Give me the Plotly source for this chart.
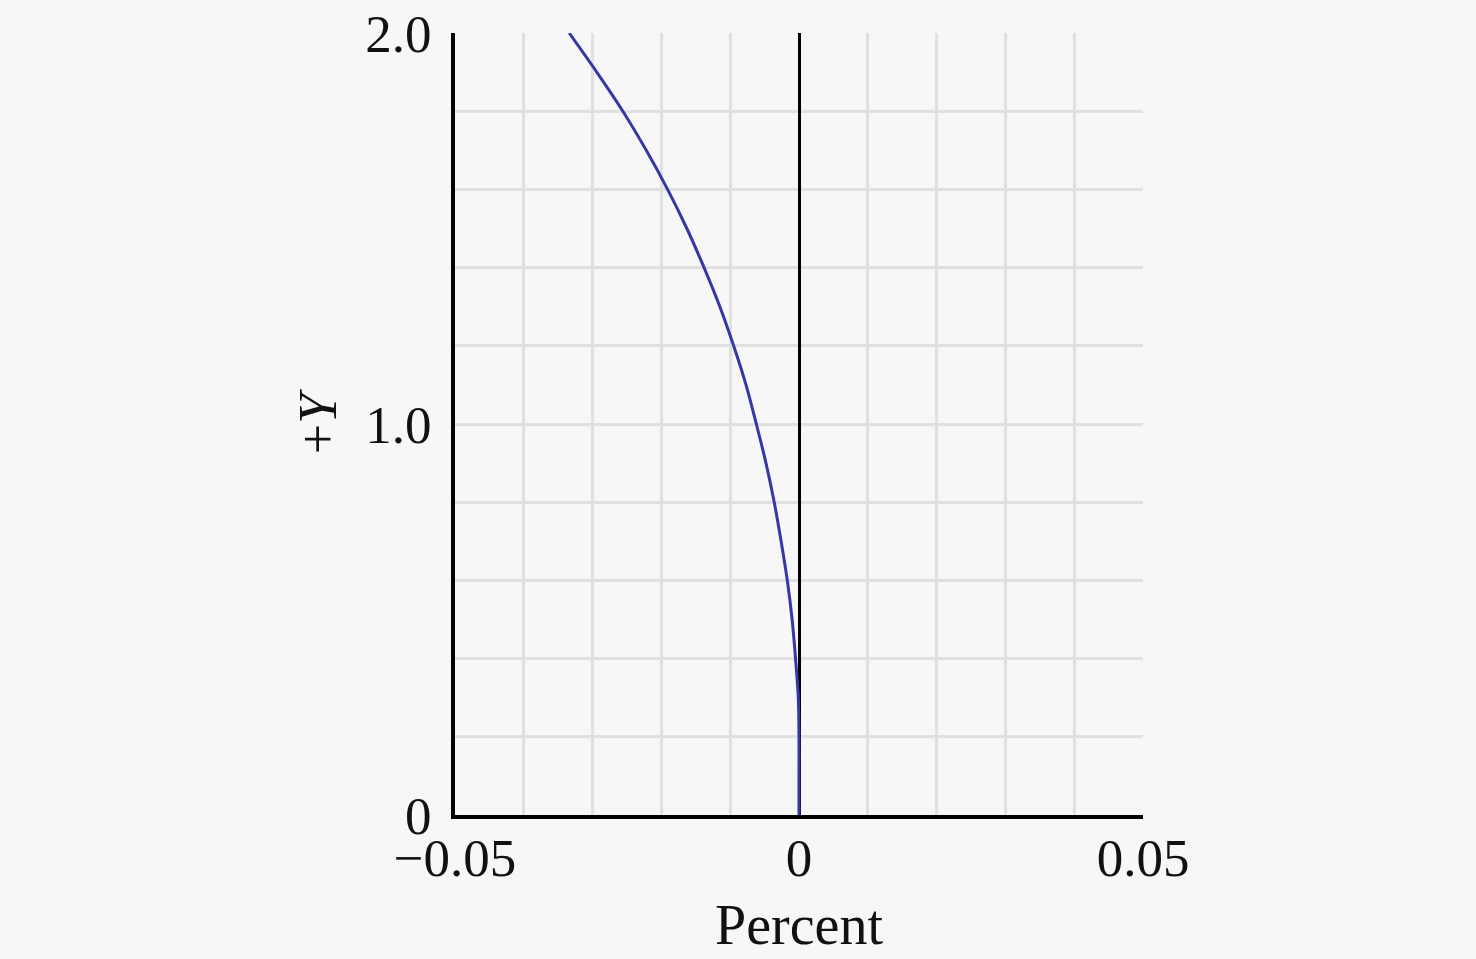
import plotly.graph_objects as go

# Data
y_vals = [0.0, 0.1, 0.2, 0.3, 0.4, 0.5, 0.6, 0.7, 0.8, 0.9, 1.0, 1.1, 1.2, 1.3, 1.4, 1.5, 1.6, 1.7, 1.8, 1.9, 2.0]
pct_vals = [0.0, 0.0, 0.0, -0.0001, -0.0005, -0.0010, -0.0017, -0.0026, -0.0036, -0.0048, -0.0062,
            -0.0077, -0.0095, -0.0115, -0.0138, -0.0163, -0.0191, -0.0222, -0.0256, -0.0294, -0.0334]

x_grid = [-0.05, -0.04, -0.03, -0.02, -0.01, 0.0, 0.01, 0.02, 0.03, 0.04, 0.05]
x_text = ["\u22120.05", "", "", "", "", "0", "", "", "", "", "0.05"]
y_grid = [0.0, 0.2, 0.4, 0.6, 0.8, 1.0, 1.2, 1.4, 1.6, 1.8, 2.0]
y_text = ["0", "", "", "", "", "1.0", "", "", "", "", "2.0"]

FONT = "Liberation Serif"
BG = "#f7f7f7"

fig = go.Figure()
fig.add_trace(go.Scatter(x=pct_vals, y=y_vals, mode="lines",
                         line=dict(color="#3636a4", width=3, shape="spline", smoothing=0.8),
                         showlegend=False))

fig.update_layout(
    width=1476, height=959,
    margin=dict(l=455, r=333, t=33, b=144),
    paper_bgcolor=BG, plot_bgcolor=BG,
    font=dict(family=FONT, size=53, color="#111"),
)
fig.update_xaxes(
    range=[-0.05, 0.05], tickvals=x_grid, ticktext=x_text,
    showgrid=True, gridcolor="#e0e0e0", gridwidth=3,
    zeroline=True, zerolinecolor="#000", zerolinewidth=3,
    showline=True, linecolor="#000", linewidth=4,
    ticks="", ticklabelstandoff=-7, automargin=False,
    title=dict(text="Percent", standoff=20, font=dict(size=56)),
)
fig.update_yaxes(
    range=[0, 2.0], tickvals=y_grid, ticktext=y_text,
    showgrid=True, gridcolor="#e0e0e0", gridwidth=3,
    zeroline=False,
    showline=True, linecolor="#000", linewidth=4,
    ticks="", ticklabelstandoff=9, automargin=False,
    title=dict(text="+<i>Y</i>", standoff=12, font=dict(size=54)),
)

fig.write_html("out.html", config={"displayModeBar": False},
               post_script="document.body.style.margin='0';document.body.style.overflow='hidden';")
